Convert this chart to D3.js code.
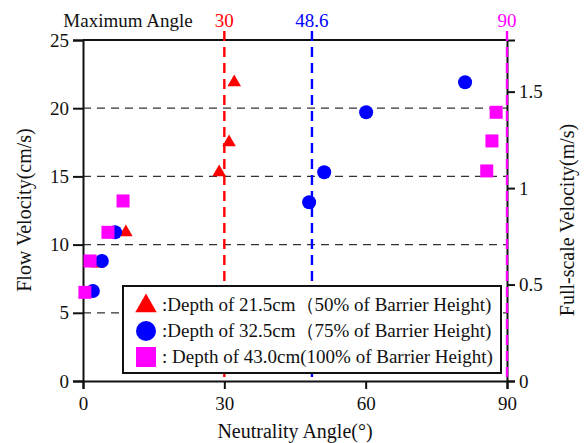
<!DOCTYPE html>
<html>
<head>
<meta charset="utf-8">
<script src="https://cdn.jsdelivr.net/npm/d3@7"></script>
<style>
  html, body { margin: 0; padding: 0; background: #fff; }
  svg { display: block; }
</style>
</head>
<body>
<svg id="chart" width="586" height="443" font-family="'Liberation Serif', serif"></svg>
<script>
// Flow velocity vs neutrality angle for three water depths
const triAngle  = [3.1, 9.1, 28.9, 31.0, 32.1];
const triVel    = [8.6, 10.9, 15.3, 17.5, 21.9];
const circAngle = [2.1, 4.0, 6.8, 48.0, 51.2, 60.1, 81.1];
const circVel   = [6.6, 8.8, 10.9, 13.1, 15.3, 19.7, 21.9];
const sqAngle   = [0.4, 1.5, 5.3, 8.5, 85.7, 86.8, 87.7];
const sqVel     = [6.5, 8.8, 10.9, 13.2, 15.4, 17.6, 19.7];

const maxAngles   = [30, 48.6, 90];
const maxLabels   = ["30", "48.6", "90"];
const xTicks      = [0, 30, 60, 90];
const yTicks      = [0, 5, 10, 15, 20, 25];
const gridTicks   = [5, 10, 15, 20];
const rightTicks  = [0, 0.5, 1, 1.5];
const legendLabels = [
  ":Depth of 21.5cm（50% of Barrier Height)",
  ":Depth of 32.5cm（75% of Barrier Height)",
  ": Depth of 43.0cm(100% of Barrier Height)"
];

const RED = "#ff0000", BLUE = "#0000ff", MAGENTA = "#ff00ff";
const seriesColors = [RED, BLUE, MAGENTA];
const FONT = "Liberation Serif";
const INK = "#111";

// 1:50 Froude scaling: full-scale velocity = model velocity * sqrt(50)
const scaleFactor = Math.sqrt(50) / 100;

const svg = d3.select("#chart");
const x  = d3.scaleLinear().domain([0, 90]).range([83, 507]);
const y  = d3.scaleLinear().domain([0, 25]).range([381, 40]);
const yR = d3.scaleLinear().domain([0, 25 * scaleFactor]).range([381, 40]);

function label(sel, size, color) {
  return sel.attr("font-family", FONT).attr("font-size", size).attr("fill", color || INK);
}

// horizontal dashed grid lines
svg.append("g").selectAll("line").data(gridTicks).join("line")
  .attr("x1", x(0)).attr("x2", x(90))
  .attr("y1", d => y(d)).attr("y2", d => y(d))
  .attr("stroke", "#333").attr("stroke-width", 1.3)
  .attr("stroke-dasharray", "8,6");

// frame: top border
svg.append("line")
  .attr("x1", x(0)).attr("x2", x(90)).attr("y1", y(25)).attr("y2", y(25))
  .attr("stroke", INK).attr("stroke-width", 2);

// axes
function styleAxis(g) {
  g.attr("font-family", FONT).attr("font-size", 19);
  g.select(".domain").attr("stroke", INK).attr("stroke-width", 2);
  g.selectAll(".tick line").attr("stroke", INK).attr("stroke-width", 2);
  g.selectAll(".tick text").attr("fill", INK);
}

svg.append("g").attr("transform", `translate(${x(0)},0)`)
  .call(d3.axisLeft(y).tickValues(yTicks).tickFormat(d3.format("d")).tickSizeOuter(0).tickSize(10).tickPadding(4))
  .call(styleAxis);

svg.append("g").attr("transform", `translate(0,${y(0)})`)
  .call(d3.axisBottom(x).tickValues(xTicks).tickFormat(d3.format("d")).tickSizeOuter(0).tickSize(8).tickPadding(8))
  .call(styleAxis);

svg.append("g").attr("transform", `translate(${x(90)},0)`)
  .call(d3.axisRight(yR).tickValues(rightTicks).tickFormat(d => String(d)).tickSizeOuter(0).tickSize(8).tickPadding(4))
  .call(styleAxis);

// maximum-angle reference lines
maxAngles.forEach((a, i) => {
  svg.append("line")
    .attr("x1", x(a)).attr("x2", x(a))
    .attr("y1", 31).attr("y2", y(0))
    .attr("stroke", seriesColors[i]).attr("stroke-width", 2.4)
    .attr("stroke-dasharray", "10,6");
  svg.append("text")
    .attr("x", x(a)).attr("y", 27)
    .attr("text-anchor", "middle")
    .call(label, 19, seriesColors[i])
    .text(maxLabels[i]);
});

svg.append("text")
  .attr("x", 128).attr("y", 27)
  .attr("text-anchor", "middle")
  .call(label, 19)
  .text("Maximum Angle");

// data points
const dots = svg.append("g");

dots.selectAll(".tri").data(d3.zip(triAngle, triVel)).join("path")
  .attr("class", "tri")
  .attr("d", d3.symbol().type(d3.symbolTriangle).size(80))
  .attr("transform", d => `translate(${x(d[0])},${y(d[1])})`)
  .attr("fill", RED);

dots.selectAll(".circ").data(d3.zip(circAngle, circVel)).join("circle")
  .attr("class", "circ")
  .attr("cx", d => x(d[0])).attr("cy", d => y(d[1]))
  .attr("r", 7).attr("fill", BLUE);

const sq = 13;
dots.selectAll(".sq").data(d3.zip(sqAngle, sqVel)).join("rect")
  .attr("class", "sq")
  .attr("x", d => x(d[0]) - sq / 2).attr("y", d => y(d[1]) - sq / 2)
  .attr("width", sq).attr("height", sq)
  .attr("fill", MAGENTA);

// legend
const lg = svg.append("g");
lg.append("rect")
  .attr("x", 123).attr("y", 286).attr("width", 378).attr("height", 87)
  .attr("fill", "#fff").attr("stroke", INK).attr("stroke-width", 2);

const rowY = [305, 331, 357];
lg.append("path")
  .attr("d", d3.symbol().type(d3.symbolTriangle).size(200)())
  .attr("transform", `translate(146,${rowY[0] + 1})`)
  .attr("fill", RED);
lg.append("circle").attr("cx", 146).attr("cy", rowY[1]).attr("r", 10).attr("fill", BLUE);
lg.append("rect").attr("x", 136).attr("y", rowY[2] - 10).attr("width", 20).attr("height", 20).attr("fill", MAGENTA);

legendLabels.forEach((t, i) => {
  lg.append("text")
    .attr("x", 162).attr("y", rowY[i] + 6)
    .call(label, 19)
    .text(t);
});

// axis titles
svg.append("text")
  .attr("transform", `translate(31,210) rotate(-90)`)
  .attr("text-anchor", "middle")
  .call(label, 20)
  .text("Flow Velocity(cm/s)");

svg.append("text")
  .attr("transform", `translate(574,220) rotate(-90)`)
  .attr("text-anchor", "middle")
  .call(label, 20)
  .text("Full-scale Velocity(m/s)");

svg.append("text")
  .attr("x", x(45)).attr("y", 438)
  .attr("text-anchor", "middle")
  .call(label, 20)
  .text("Neutrality Angle(°)");
</script>
</body>
</html>
